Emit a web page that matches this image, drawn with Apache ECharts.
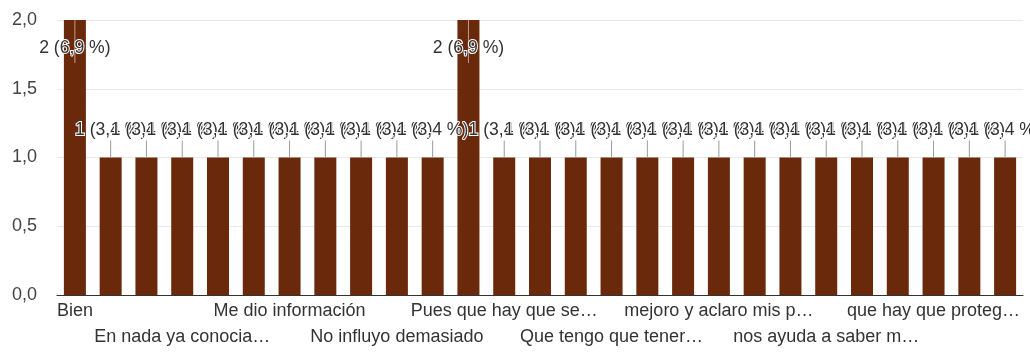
<!DOCTYPE html>
<html>
<head>
<meta charset="utf-8">
<script src="https://cdn.jsdelivr.net/npm/echarts@6/dist/echarts.min.js"></script>
<style>
  html, body { margin: 0; padding: 0; background: #ffffff; }
  #chart { width: 1030px; height: 353px; }
</style>
</head>
<body>
<div id="chart"></div>
<script>
// Categories (only every third label is visible in the reference; the rest are unreadable)
const categories = [
  "Bien", "", "",
  "En nada ya conocia…", "", "",
  "Me dio información", "", "",
  "No influyo demasiado", "", "",
  "Pues que hay que se…", "", "",
  "Que tengo que tener…", "", "",
  "mejoro y aclaro mis p…", "", "",
  "nos ayuda a saber m…", "", "",
  "que hay que proteg…", "", ""
];
const counts = [2, 1, 1, 1, 1, 1, 1, 1, 1, 1, 1, 2, 1, 1, 1, 1, 1, 1, 1, 1, 1, 1, 1, 1, 1, 1, 1];
const yTicks = [0, 0.5, 1, 1.5, 2];

const total = counts.reduce((a, b) => a + b, 0);
const yMax = yTicks[yTicks.length - 1];
const FONT = '"Liberation Sans", Arial, Helvetica, sans-serif';
const BAR = '#6a290b';

function pct(v) {
  return (v / total * 100).toFixed(1).replace('.', ',') + ' %';
}

const chart = echarts.init(document.getElementById('chart'), null, { renderer: 'canvas' });

chart.setOption({
  animation: false,
  backgroundColor: '#ffffff',
  grid: { left: 57, right: 7, top: 20, bottom: 58, containLabel: false },
  xAxis: {
    type: 'category',
    data: categories,
    axisTick: { show: false },
    axisLine: { lineStyle: { color: '#333333', width: 1 } },
    axisLabel: {
      interval: 0,
      margin: 3,
      color: '#333333',
      fontSize: 18,
      fontFamily: FONT,
      lineHeight: 26,
      formatter: function (val, idx) {
        if (!val) return '';
        return (Math.floor(idx / 3) % 2) ? '\n' + val : val;
      }
    }
  },
  yAxis: {
    type: 'value',
    min: yTicks[0],
    max: yMax,
    interval: 0.5,
    axisLine: { show: false },
    axisTick: { show: false },
    splitLine: { lineStyle: { color: '#e9e9e9', width: 1 } },
    axisLabel: {
      margin: 20,
      color: '#444444',
      fontSize: 18,
      fontFamily: FONT,
      formatter: function (v) { return v.toFixed(1).replace('.', ','); }
    }
  },
  series: [
    {
      type: 'bar',
      data: counts,
      barWidth: 22,
      itemStyle: { color: BAR },
      z: 2
    },
    {
      type: 'custom',
      z: 3,
      data: counts.map((v, i) => [i, v]),
      renderItem: function (params, api) {
        const i = api.value(0);
        const v = api.value(1);
        const p = api.coord([i, v]);
        const tall = v >= yMax;
        const text = v + ' (' + pct(v) + ')';
        const line = tall
          ? { type: 'line', shape: { x1: p[0], y1: p[1], x2: p[0], y2: p[1] + 43 },
              style: { stroke: 'rgba(255,255,255,0.55)', lineWidth: 1 } }
          : { type: 'line', shape: { x1: p[0], y1: p[1] - 17, x2: p[0], y2: p[1] },
              style: { stroke: '#9a9a9a', lineWidth: 1 } };
        const label = {
          type: 'text',
          style: {
            text: text,
            x: p[0],
            y: tall ? p[1] + 28 : p[1] - 27,
            align: 'center',
            verticalAlign: 'middle',
            fill: '#333333',
            fontSize: 17.6,
            fontFamily: FONT,
            stroke: '#ffffff',
            lineWidth: 2
          }
        };
        return { type: 'group', children: [line, label] };
      }
    }
  ]
});
</script>
</body>
</html>
